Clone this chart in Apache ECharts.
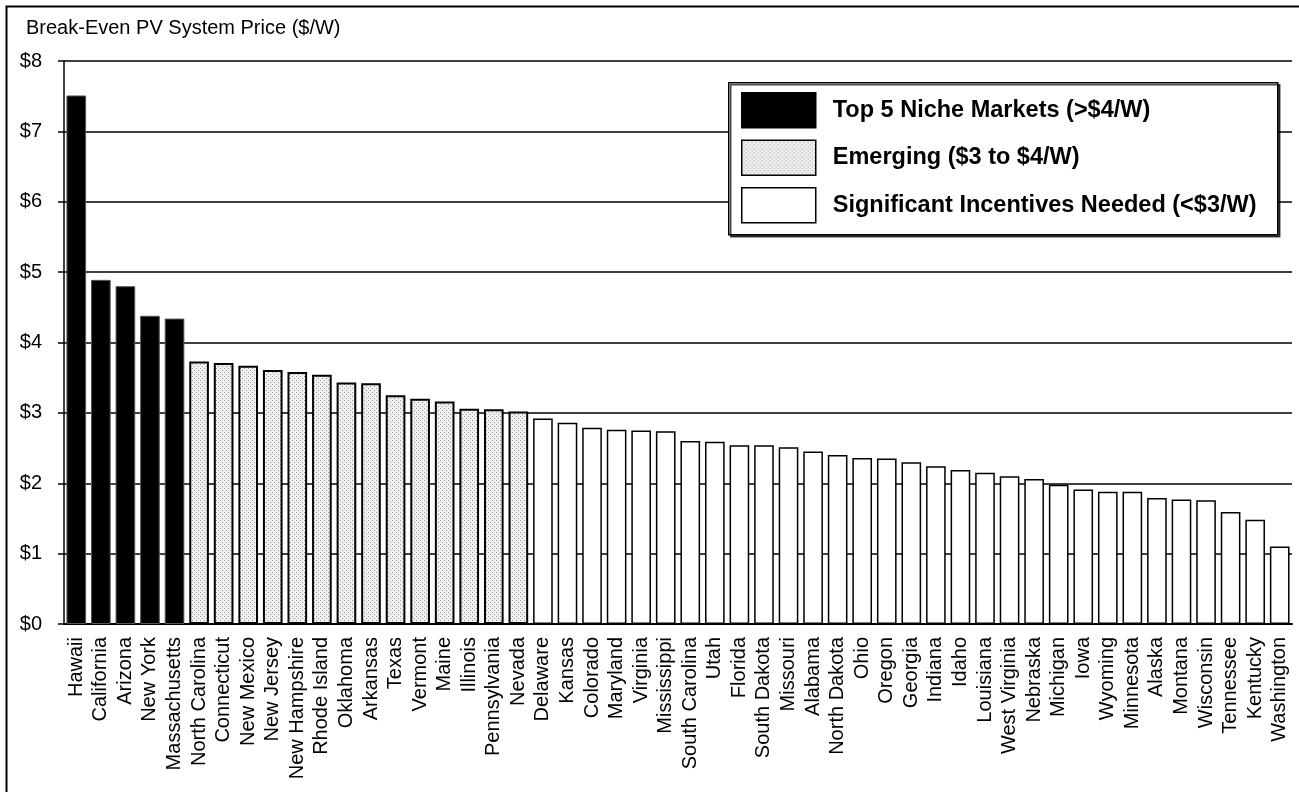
<!DOCTYPE html>
<html>
<head>
<meta charset="utf-8">
<script src="https://cdn.jsdelivr.net/npm/echarts@6/dist/echarts.min.js"></script>
<style>
html,body{margin:0;padding:0;background:#fff;}
#chart{width:1299px;height:792px;}
</style>
</head>
<body>
<div id="chart"></div>
<script>
var states = ["Hawaii","California","Arizona","New York","Massachusetts","North Carolina","Connecticut","New Mexico","New Jersey","New Hampshire","Rhode Island","Oklahoma","Arkansas","Texas","Vermont","Maine","Illinois","Pennsylvania","Nevada","Delaware","Kansas","Colorado","Maryland","Virginia","Mississippi","South Carolina","Utah","Florida","South Dakota","Missouri","Alabama","North Dakota","Ohio","Oregon","Georgia","Indiana","Idaho","Louisiana","West Virginia","Nebraska","Michigan","Iowa","Wyoming","Minnesota","Alaska","Montana","Wisconsin","Tennessee","Kentucky","Washington"];
var prices = [7.51,4.89,4.80,4.38,4.34,3.73,3.71,3.67,3.61,3.58,3.54,3.43,3.42,3.25,3.20,3.16,3.06,3.05,3.02,2.92,2.86,2.79,2.76,2.75,2.74,2.60,2.59,2.54,2.54,2.51,2.45,2.40,2.36,2.35,2.30,2.24,2.19,2.15,2.10,2.06,1.98,1.91,1.88,1.88,1.79,1.77,1.76,1.59,1.48,1.10];
var seriesNames = ["Top 5 Niche Markets (>$4/W)","Emerging ($3 to $4/W)","Significant Incentives Needed (<$3/W)"];
var yTicks = [0,1,2,3,4,5,6,7,8];
var axisTitle = "Break-Even PV System Price ($/W)";

var niche = prices.map(function(v){ return v > 4 ? v : '-'; });
var emerging = prices.map(function(v){ return (v >= 3 && v <= 4) ? v : '-'; });
var needed = prices.map(function(v){ return v < 3 ? v : '-'; });

// stipple pattern
var pc = document.createElement('canvas');
pc.width = 4; pc.height = 4;
var g = pc.getContext('2d');
g.fillStyle = '#f0f0f0'; g.fillRect(0,0,4,4);
g.fillStyle = '#9a9a9a';
g.fillRect(0,0,1,1); g.fillRect(2,2,1,1);
var pattern = {image: pc, repeat: 'repeat'};

var FONT = '"Liberation Sans", Arial, sans-serif';
var chart = echarts.init(document.getElementById('chart'), null, {renderer:'canvas'});
var option = {
  animation: false,
  backgroundColor: '#fff',
  textStyle: {fontFamily: FONT, color: '#000'},
  title: {
    text: axisTitle, left: 21, top: 13,
    textStyle: {fontFamily: FONT, fontSize: 20, fontWeight: 'normal', color: '#000'}
  },
  grid: {left: 64, right: 7, top: 61, bottom: 168, containLabel: false},
  xAxis: {
    type: 'category', data: states,
    axisLine: {lineStyle: {color: '#000', width: 2}},
    axisTick: {show: false},
    axisLabel: {rotate: 90, interval: 0, fontSize: 20, color: '#000', fontFamily: FONT, margin: 13}
  },
  yAxis: {
    type: 'value', min: yTicks[0], max: yTicks[yTicks.length-1], interval: 1,
    axisLine: {show: true, lineStyle: {color: '#000', width: 1.5}},
    axisTick: {show: true, length: 6, lineStyle: {color: '#000', width: 1.5}},
    axisLabel: {formatter: function(v){ return '$' + v; }, fontSize: 20, color: '#000', fontFamily: FONT, margin: 22, align: 'right'},
    splitLine: {show: true, lineStyle: {color: '#000', width: 1.5}}
  },
  legend: {
    data: seriesNames, orient: 'vertical', left: 741, top: 92,
    itemWidth: 74, itemHeight: 35, itemGap: 11, padding: 0,
    icon: 'rect', z: 10,
    textStyle: {fontFamily: FONT, fontSize: 23.5, fontWeight: 'bold', color: '#000', padding: [0,0,0,12]},
    itemStyle: {borderColor: '#000', borderWidth: 1.5}
  },
  graphic: [
    {type: 'rect', left: 728, top: 82, z: 5, shape: {width: 549, height: 152},
     style: {fill: '#fff', stroke: '#000', lineWidth: 1.5, shadowColor: 'rgba(0,0,0,0.7)', shadowOffsetX: 2, shadowOffsetY: 2, shadowBlur: 0}},
    {type: 'rect', left: 4, top: 4, z: 5, shape: {width: 1320, height: 820},
     style: {fill: 'none', stroke: '#000', lineWidth: 2}}
  ],
  series: [
    {name: seriesNames[0], type: 'bar', stack: 'all', data: niche, barCategoryGap: '20%',
     itemStyle: {color: '#000', borderColor: '#555', borderWidth: 1}},
    {name: seriesNames[1], type: 'bar', stack: 'all', data: emerging,
     itemStyle: {color: pattern, borderColor: '#000', borderWidth: 2}},
    {name: seriesNames[2], type: 'bar', stack: 'all', data: needed,
     itemStyle: {color: '#fff', borderColor: '#000', borderWidth: 1.5}}
  ]
};
chart.setOption(option);
</script>
</body>
</html>
